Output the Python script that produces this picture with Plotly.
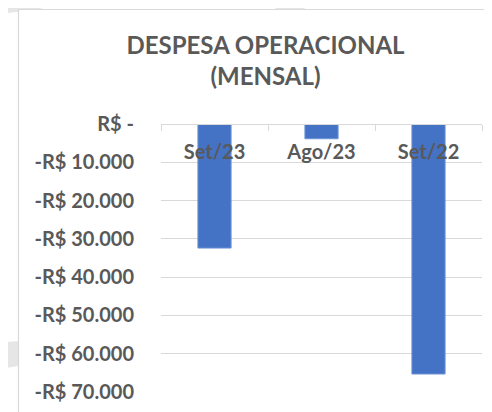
import plotly.graph_objects as go

categories = ["Set/23", "Ago/23", "Set/22"]
despesa = [-32400, -3850, -65300]
tick_vals = [0, -10000, -20000, -30000, -40000, -50000, -60000, -70000]
tick_text = ["R$ -", "-R$ 10.000", "-R$ 20.000", "-R$ 30.000",
             "-R$ 40.000", "-R$ 50.000", "-R$ 60.000", "-R$ 70.000"]

OFF = 8  # page body margin offset
W, H = 492 - OFF, 412 - OFF
L, R, T, B = 161 - OFF, 10, 124 - OFF, 20
pw, ph = W - L - R, H - T - B

def px(x):
    return (x - OFF - L) / pw

def py(y):
    return (H - B - (y - OFF)) / ph

TXT = "#595959"
GRID = "#d9d9d9"
FONT = "Lato"

fig = go.Figure()
fig.add_trace(go.Bar(
    x=categories, y=despesa, width=0.31,
    marker=dict(color="#4472C4", line=dict(color="#6d93d6", width=1)),
))

shapes = []
wm = "#e6e6e6"
shapes.append(dict(type="path", xref="paper", yref="paper", layer="below",
                   path=f"M {px(0)} {py(0)} L {px(68)} {py(0)} L {px(40)} {py(9)} L {px(0)} {py(14)} Z",
                   fillcolor=wm, line=dict(width=0)))
shapes.append(dict(type="path", xref="paper", yref="paper", layer="below",
                   path=f"M {px(264)} {py(0)} L {px(298)} {py(0)} L {px(305)} {py(9)} L {px(276)} {py(9)} Z",
                   fillcolor=wm, line=dict(width=0)))
shapes.append(dict(type="path", xref="paper", yref="paper", layer="below",
                   path=f"M {px(0)} {py(343)} L {px(18)} {py(341)} L {px(18)} {py(366)} L {px(0)} {py(369)} Z",
                   fillcolor=wm, line=dict(width=0)))
shapes.append(dict(type="rect", xref="paper", yref="paper", layer="below",
                   x0=px(18.5), x1=px(520), y0=py(440), y1=py(9.5),
                   fillcolor="white", line=dict(color=GRID, width=1.2)))

fig.update_layout(
    width=W, height=H,
    margin=dict(l=L, r=R, t=T, b=B, autoexpand=False),
    paper_bgcolor="white", plot_bgcolor="rgba(0,0,0,0)",
    showlegend=False,
    font=dict(family=FONT, color=TXT),
    title=dict(text="<b>DESPESA OPERACIONAL</b><br><b>(MENSAL)</b>",
               x=px(265.5), xref="paper", xanchor="center",
               y=1 - 46 / H, yref="container", yanchor="middle",
               font=dict(family=FONT, size=24, color=TXT)),
    shapes=shapes,
)
fig.update_xaxes(
    type="category", side="bottom", anchor="free", position=1,
    showgrid=False,
    showline=True, linecolor=GRID, linewidth=1,
    ticks="outside", ticklen=6, tickcolor=GRID, tickson="boundaries",
    ticklabelstandoff=10,
    tickfont=dict(family=FONT, size=20, color=TXT, weight="bold"),
    fixedrange=True,
)
fig.update_yaxes(
    range=[-70000, 1], tickvals=tick_vals, ticktext=tick_text,
    showgrid=True, gridcolor=GRID, gridwidth=1.2, zeroline=False,
    showline=False, ticks="", ticklabelstandoff=26,
    tickfont=dict(family=FONT, size=20, color=TXT, weight="bold"),
    fixedrange=True,
)

fig.write_html("out.html")
